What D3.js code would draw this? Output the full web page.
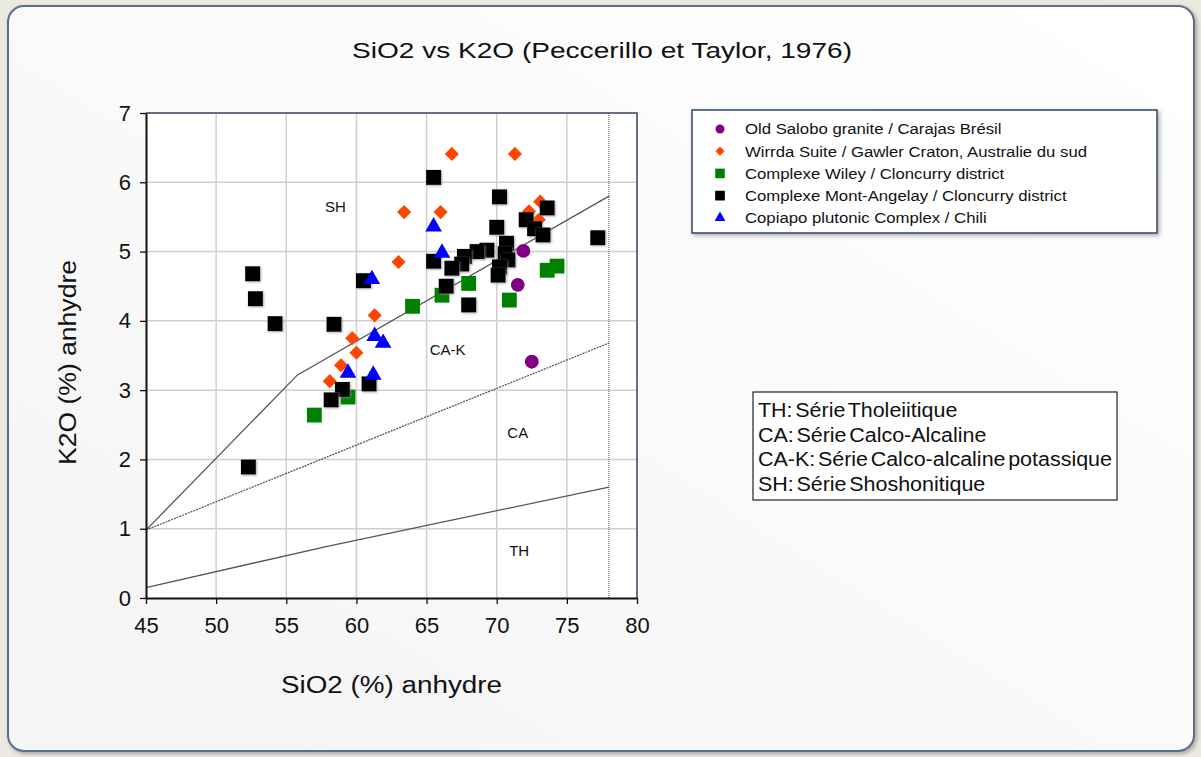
<!DOCTYPE html>
<html>
<head>
<meta charset="utf-8">
<script src="https://cdn.jsdelivr.net/npm/d3@7"></script>
<style>
  body { margin: 0; background: #ebe9e0; }
  text { font-family: "Liberation Sans", Arial, sans-serif; fill: #111; }
</style>
</head>
<body>
<svg id="chart" width="1201" height="757"></svg>
<script>
// ---- data (SiO2 %, K2O %) ----
var salobo = [[71.9, 5.01], [71.5, 4.52], [72.5, 3.41]];
var wirrda = [[66.8, 6.41], [71.3, 6.41], [63.4, 5.57], [66.0, 5.57], [63.0, 4.85],
  [61.3, 4.08], [59.7, 3.75], [60.0, 3.54], [58.9, 3.36], [58.1, 3.13],
  [73.1, 5.72], [72.3, 5.58], [73.0, 5.46]];
var wiley = [[57.0, 2.64], [59.4, 2.90], [64.0, 4.21], [66.1, 4.37], [68.0, 4.54],
  [70.9, 4.30], [73.6, 4.73], [74.3, 4.79]];
var angelay = [[52.6, 4.68], [52.8, 4.32], [54.2, 3.96], [58.4, 3.95], [60.5, 4.58],
  [65.5, 6.07], [70.2, 5.79], [70.0, 5.35], [73.6, 5.63], [72.1, 5.46], [72.7, 5.33],
  [73.3, 5.24], [77.2, 5.20], [70.7, 5.12], [70.6, 4.97], [70.8, 4.88], [70.2, 4.78],
  [70.1, 4.66], [69.3, 5.02], [68.6, 5.00], [67.7, 4.93], [67.5, 4.82], [65.5, 4.86],
  [66.8, 4.76], [66.4, 4.50], [68.0, 4.23], [59.0, 3.01], [58.2, 2.86], [60.9, 3.09],
  [52.3, 1.89]];
var copiapo = [[65.5, 5.36], [66.1, 4.98], [61.1, 4.60], [61.3, 3.78], [61.9, 3.68],
  [59.4, 3.25], [61.2, 3.22]];

// boundary lines (Peccerillo & Taylor, 1976)
var lineTH = [[45, 0.15], [58, 0.75], [78, 1.6]];
var lineCA = [[45, 0.98], [78, 3.68]];
var lineSH = [[45, 0.98], [55.8, 3.22], [78, 5.8]];

var xTicks = [45, 50, 55, 60, 65, 70, 75, 80];
var yTicks = [0, 1, 2, 3, 4, 5, 6, 7];

var legendLabels = [
  'Old Salobo granite / Carajas Brésil',
  'Wirrda Suite / Gawler Craton, Australie du sud',
  'Complexe Wiley / Cloncurry district',
  'Complexe Mont-Angelay / Cloncurry district',
  'Copiapo plutonic Complex / Chili'
];
var seriesNotes = [
  'TH: Série Tholeiitique',
  'CA: Série Calco-Alcaline',
  'CA-K: Série Calco-alcaline potassique',
  'SH: Série Shoshonitique'
];
var regionLabels = [['SH', 58.5, 5.65], ['CA-K', 66.5, 3.58], ['CA', 71.5, 2.38], ['TH', 71.6, 0.68]];

(function () {
  var svg = d3.select('#chart');
  var m = { left: 146, right: 637, top: 113, bottom: 598 };

  var x = d3.scaleLinear().domain([45, 80]).range([m.left, m.right]);
  var y = d3.scaleLinear().domain([0, 7]).range([m.bottom, m.top]);

  var defs = svg.append('defs');
  var grad = defs.append('linearGradient').attr('id', 'panelGrad')
    .attr('x1', 0).attr('y1', 1).attr('x2', 1).attr('y2', 0);
  grad.append('stop').attr('offset', 0).attr('stop-color', '#f4f4f4');
  grad.append('stop').attr('offset', 1).attr('stop-color', '#ffffff');

  var shadow = defs.append('filter').attr('id', 'shadow')
    .attr('x', '-5%').attr('y', '-5%').attr('width', '110%').attr('height', '110%');
  shadow.append('feDropShadow').attr('dx', 2).attr('dy', 2).attr('stdDeviation', 2)
    .attr('flood-color', '#777').attr('flood-opacity', 0.6);

  var soft = defs.append('filter').attr('id', 'soft')
    .attr('x', '-30%').attr('y', '-30%').attr('width', '160%').attr('height', '160%');
  soft.append('feDropShadow').attr('dx', 1).attr('dy', 1).attr('stdDeviation', 1)
    .attr('flood-color', '#888').attr('flood-opacity', 0.7);

  // stretch a text element horizontally to a target width
  function fitWidth(sel, w) {
    sel.attr('textLength', w).attr('lengthAdjust', 'spacingAndGlyphs');
  }

  // panel
  svg.append('rect').attr('width', 1201).attr('height', 757).attr('fill', '#ebe9e0');
  svg.append('rect')
    .attr('x', 8).attr('y', 6).attr('width', 1186).attr('height', 745)
    .attr('rx', 16).attr('ry', 16)
    .attr('fill', 'url(#panelGrad)')
    .attr('stroke', '#5b6e8e').attr('stroke-width', 2)
    .attr('filter', 'url(#shadow)');

  // title
  svg.append('text')
    .attr('x', 352).attr('y', 58)
    .style('font-size', '22px')
    .text('SiO2 vs K2O (Peccerillo et Taylor, 1976)')
    .call(fitWidth, 500);

  // plot background
  svg.append('rect')
    .attr('x', m.left).attr('y', m.top)
    .attr('width', m.right - m.left).attr('height', m.bottom - m.top)
    .attr('fill', '#fff');

  // grid
  svg.append('g').selectAll('line')
    .data(xTicks.slice(1, -1)).enter().append('line')
    .attr('x1', x).attr('x2', x).attr('y1', m.top).attr('y2', m.bottom)
    .attr('stroke', '#cfcfcf').attr('stroke-width', 1.5);
  svg.append('g').selectAll('line')
    .data(yTicks.slice(1, -1)).enter().append('line')
    .attr('y1', y).attr('y2', y).attr('x1', m.left).attr('x2', m.right)
    .attr('stroke', '#cfcfcf').attr('stroke-width', 1.5);

  // dotted limit at 78
  svg.append('line')
    .attr('x1', x(78)).attr('x2', x(78)).attr('y1', m.top).attr('y2', m.bottom)
    .attr('stroke', '#444').attr('stroke-dasharray', '1,1');

  // frame top/right
  svg.append('path')
    .attr('d', 'M' + m.left + ',' + m.top + 'H' + m.right + 'V' + m.bottom)
    .attr('fill', 'none').attr('stroke', '#33415e').attr('stroke-width', 1.5);

  // boundary lines
  var line = d3.line().x(function (d) { return x(d[0]); }).y(function (d) { return y(d[1]); });
  svg.append('path').datum(lineTH).attr('d', line)
    .attr('fill', 'none').attr('stroke', '#555').attr('stroke-width', 1.3);
  svg.append('path').datum(lineCA).attr('d', line)
    .attr('fill', 'none').attr('stroke', '#555').attr('stroke-width', 1.3)
    .attr('stroke-dasharray', '2,1');
  svg.append('path').datum(lineSH).attr('d', line)
    .attr('fill', 'none').attr('stroke', '#555').attr('stroke-width', 1.3);

  // region labels
  svg.append('g').selectAll('text')
    .data(regionLabels).enter().append('text')
    .attr('x', function (d) { return x(d[1]); })
    .attr('y', function (d) { return y(d[2]); })
    .attr('text-anchor', 'middle')
    .attr('dy', '0.35em')
    .style('font-size', '15px')
    .text(function (d) { return d[0]; });

  // axes
  var xAxis = svg.append('g')
    .attr('transform', 'translate(0,' + m.bottom + ')')
    .call(d3.axisBottom(x).tickValues(xTicks).tickFormat(d3.format('d'))
      .tickSize(6).tickPadding(13).tickSizeOuter(0));
  var yAxis = svg.append('g')
    .attr('transform', 'translate(' + m.left + ',0)')
    .call(d3.axisLeft(y).tickValues(yTicks).tickFormat(d3.format('d'))
      .tickSize(6).tickPadding(9).tickSizeOuter(0));
  [xAxis, yAxis].forEach(function (a) {
    a.select('.domain').attr('stroke', '#111').attr('stroke-width', 2);
    a.selectAll('.tick line').attr('stroke', '#111').attr('stroke-width', 1.3);
    a.selectAll('.tick text').style('font-size', '22px')
      .style('font-family', '"Liberation Sans", Arial, sans-serif').attr('fill', '#111');
  });

  // axis titles
  svg.append('text')
    .attr('x', 281).attr('y', 693)
    .style('font-size', '23px')
    .text('SiO2 (%) anhydre')
    .call(fitWidth, 221);
  svg.append('text')
    .attr('transform', 'translate(76,465) rotate(-90)')
    .style('font-size', '23px')
    .text('K2O (%) anhydre')
    .call(fitWidth, 205);

  // markers
  var styles = [
    { data: salobo, color: '#800080', symbol: d3.symbolCircle, size: 150, rot: 0 },
    { data: wirrda, color: '#ff4500', symbol: d3.symbolSquare, size: 100, rot: 45 },
    { data: wiley, color: '#008000', symbol: d3.symbolSquare, size: 220, rot: 0 },
    { data: angelay, color: '#000000', symbol: d3.symbolSquare, size: 225, rot: 0 },
    { data: copiapo, color: '#0000ff', symbol: d3.symbolTriangle, size: 120, rot: 0 }
  ];
  var drawOrder = [1, 2, 3, 0, 4];

  drawOrder.forEach(function (i) {
    var s = styles[i];
    svg.append('g').selectAll('path')
      .data(s.data).enter().append('path')
      .attr('d', d3.symbol().type(s.symbol).size(s.size))
      .attr('transform', function (d) {
        return 'translate(' + x(d[0]) + ',' + y(d[1]) + ') rotate(' + s.rot + ')';
      })
      .attr('fill', s.color)
      .attr('filter', i === 3 ? 'url(#soft)' : null);
  });

  // legend
  var lg = svg.append('g');
  lg.append('rect')
    .attr('x', 692).attr('y', 110).attr('width', 465).attr('height', 123)
    .attr('fill', '#fff').attr('stroke', '#2c4468').attr('stroke-width', 1.5)
    .attr('filter', 'url(#shadow)');
  var lgTexts = [];
  legendLabels.forEach(function (label, i) {
    var s = styles[i];
    var cy = 129 + i * 22.2;
    lg.append('path')
      .attr('d', d3.symbol().type(s.symbol).size(s.size * 0.42))
      .attr('transform', 'translate(720,' + cy + ') rotate(' + s.rot + ')')
      .attr('fill', s.color);
    lgTexts.push(lg.append('text')
      .attr('x', 745).attr('y', cy).attr('dy', '0.35em')
      .style('font-size', '15.5px')
      .text(label));
  });
  var lgK = 342 / lgTexts[1].node().getComputedTextLength();
  lgTexts.forEach(function (t) {
    t.call(fitWidth, t.node().getComputedTextLength() * lgK);
  });

  // note box
  var nb = svg.append('g');
  nb.append('rect')
    .attr('x', 753).attr('y', 392).attr('width', 364).attr('height', 108)
    .attr('fill', '#fff').attr('stroke', '#333').attr('stroke-width', 1.3);
  var nbTexts = seriesNotes.map(function (t, i) {
    return nb.append('text')
      .attr('x', 758).attr('y', 417 + i * 24.5)
      .style('font-size', '19.5px')
      .style('word-spacing', '-3px')
      .text(t);
  });
  var nbK = 354 / nbTexts[2].node().getComputedTextLength();
  nbTexts.forEach(function (t) {
    t.call(fitWidth, t.node().getComputedTextLength() * nbK);
  });
})();
</script>
</body>
</html>
